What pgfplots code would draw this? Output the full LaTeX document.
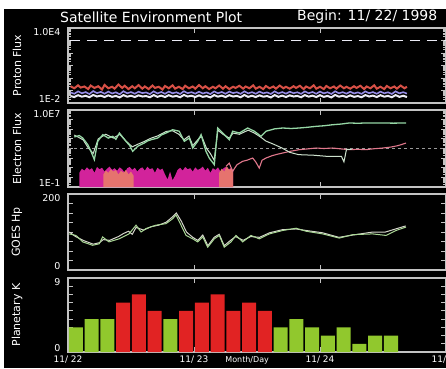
\documentclass[border=0pt]{standalone}
\usepackage{fontspec}
\setmainfont{DejaVu Sans}
\usepackage{pgfplots}
\pgfplotsset{compat=1.18}

\definecolor{framegray}{RGB}{195,195,195}
\definecolor{kgreen}{RGB}{145,200,45}
\definecolor{kred}{RGB}{225,35,35}
\definecolor{pred}{RGB}{215,80,70}
\definecolor{pblue}{RGB}{150,140,230}
\definecolor{pwhite}{RGB}{235,235,245}
\definecolor{egreen}{RGB}{150,215,165}
\definecolor{ewhite}{RGB}{205,225,205}
\definecolor{epink}{RGB}{225,120,140}
\definecolor{emag}{RGB}{210,35,155}
\definecolor{esalmon}{RGB}{230,115,110}
\definecolor{hgreen}{RGB}{170,215,150}
\definecolor{hgray}{RGB}{215,215,205}

\pgfplotsset{
  goes/.style={
    scale only axis, width=378pt, xmin=0, xmax=3,
    axis line style={draw=framegray, line width=1.2pt},
    tick style={draw=framegray, line width=0.8pt},
    tick align=inside, major tick length=5pt,
    xtick={0,1,2,3}, xticklabels={},
    minor tick num=0,
    ticklabel style={text=white, font=\fontsize{9.5}{10}\selectfont},
    yticklabel style={xshift=-4pt, yshift=4pt},
    extra y tick style={yticklabel style={yshift=-8pt}},
    every axis y label/.style={at={(axis description cs:-0.135,0.5)},
      anchor=center, rotate=90, text=white, font=\fontsize{11}{12}\selectfont},
    anchor=south west,
  },
}

\begin{document}
\begin{tikzpicture}
\fill[black] (4pt,0pt) rectangle (446pt,359pt);
\node[anchor=west, inner sep=0pt, text=white, font=\fontsize{14}{15}\selectfont] at (60pt,351pt) {Satellite Environment Plot};
\node[anchor=west, inner sep=0pt, text=white, font=\fontsize{14}{15}\selectfont] at (297pt,351pt) {Begin: 11/ 22/ 1998};

% Proton flux
\begin{axis}[goes, at={(68pt,265pt)}, height=75pt,
  ymode=log, ymin=1e-2, ymax=1e4,
  ytick={1e-2,1e-1,1,10,100,1000,1e4},
  yticklabels={1E-2,,,,,,},
  extra y ticks={1e4}, extra y tick labels={1.0E4},
  ylabel={Proton Flux}]
\addplot[pwhite, line width=0.8pt, dash pattern=on 10pt off 7pt] coordinates {(0.015,1.1e3) (3,1.1e3)};
\addplot[pred, line width=2pt] coordinates {
(0.02,0.22) (0.05,0.15) (0.08,0.26) (0.10,0.17) (0.13,0.21) (0.16,0.13) (0.18,0.25) (0.21,0.16)
(0.24,0.22) (0.27,0.12) (0.29,0.28) (0.32,0.15) (0.35,0.20) (0.37,0.14) (0.40,0.30) (0.43,0.16)
(0.45,0.24) (0.48,0.13) (0.51,0.22) (0.53,0.15) (0.56,0.27) (0.59,0.14) (0.61,0.21) (0.64,0.13)
(0.67,0.25) (0.69,0.16) (0.72,0.20) (0.75,0.12) (0.77,0.23) (0.80,0.15) (0.83,0.26) (0.85,0.14)
(0.88,0.20) (0.91,0.13) (0.93,0.24) (0.96,0.15) (0.99,0.21) (1.01,0.14) (1.04,0.27) (1.07,0.15)
(1.09,0.22) (1.12,0.13) (1.15,0.20) (1.17,0.15) (1.20,0.25) (1.23,0.14) (1.25,0.22) (1.28,0.13)
(1.31,0.20) (1.33,0.16) (1.36,0.24) (1.39,0.14) (1.41,0.21) (1.44,0.15) (1.47,0.26) (1.49,0.14)
(1.52,0.20) (1.55,0.13) (1.57,0.23) (1.60,0.15) (1.63,0.21) (1.65,0.14) (1.68,0.25) (1.71,0.15)
(1.73,0.20) (1.76,0.14) (1.79,0.22) (1.81,0.16) (1.84,0.24) (1.87,0.13) (1.89,0.21) (1.92,0.15)
(1.95,0.26) (1.97,0.14) (2.00,0.20) (2.03,0.13) (2.05,0.23) (2.08,0.15) (2.11,0.21) (2.13,0.14)
(2.16,0.25) (2.19,0.15) (2.21,0.20) (2.24,0.14) (2.27,0.22) (2.29,0.16) (2.32,0.24) (2.35,0.13)
(2.37,0.21) (2.40,0.15) (2.43,0.26) (2.45,0.14) (2.48,0.20) (2.51,0.13) (2.53,0.23) (2.56,0.15)
(2.59,0.21) (2.61,0.14) (2.64,0.25) (2.67,0.15) (2.69,0.20)};
\addplot[pblue, line width=1.6pt] coordinates {
(0.02,0.070) (0.05,0.055) (0.08,0.085) (0.11,0.060) (0.14,0.075) (0.17,0.052) (0.20,0.090) (0.23,0.062)
(0.26,0.078) (0.29,0.055) (0.32,0.082) (0.35,0.058) (0.38,0.072) (0.41,0.050) (0.44,0.088) (0.47,0.060)
(0.50,0.075) (0.53,0.055) (0.56,0.080) (0.59,0.062) (0.62,0.070) (0.65,0.052) (0.68,0.086) (0.71,0.058)
(0.74,0.076) (0.77,0.055) (0.80,0.082) (0.83,0.060) (0.86,0.072) (0.89,0.053) (0.92,0.088) (0.95,0.061)
(0.98,0.074) (1.01,0.056) (1.04,0.080) (1.07,0.058) (1.10,0.071) (1.13,0.052) (1.16,0.085) (1.19,0.060)
(1.22,0.076) (1.25,0.055) (1.28,0.082) (1.31,0.062) (1.34,0.073) (1.37,0.054) (1.40,0.087) (1.43,0.059)
(1.46,0.074) (1.49,0.055) (1.52,0.081) (1.55,0.060) (1.58,0.071) (1.61,0.053) (1.64,0.086) (1.67,0.058)
(1.70,0.075) (1.73,0.056) (1.76,0.080) (1.79,0.061) (1.82,0.072) (1.85,0.054) (1.88,0.085) (1.91,0.060)
(1.94,0.076) (1.97,0.055) (2.00,0.082) (2.03,0.059) (2.06,0.073) (2.09,0.053) (2.12,0.087) (2.15,0.060)
(2.18,0.074) (2.21,0.056) (2.24,0.080) (2.27,0.058) (2.30,0.071) (2.33,0.054) (2.36,0.085) (2.39,0.061)
(2.42,0.075) (2.45,0.055) (2.48,0.081) (2.51,0.060) (2.54,0.072) (2.57,0.053) (2.60,0.086) (2.63,0.059)
(2.66,0.074) (2.69,0.057)};
\addplot[pwhite, line width=2pt] coordinates {
(0.02,0.036) (0.05,0.030) (0.08,0.042) (0.11,0.032) (0.14,0.038) (0.17,0.029) (0.20,0.044) (0.23,0.033)
(0.26,0.039) (0.29,0.030) (0.32,0.041) (0.35,0.031) (0.38,0.037) (0.41,0.028) (0.44,0.043) (0.47,0.032)
(0.50,0.038) (0.53,0.030) (0.56,0.041) (0.59,0.033) (0.62,0.036) (0.65,0.029) (0.68,0.043) (0.71,0.031)
(0.74,0.039) (0.77,0.030) (0.80,0.042) (0.83,0.032) (0.86,0.037) (0.89,0.029) (0.92,0.044) (0.95,0.033)
(0.98,0.038) (1.01,0.030) (1.04,0.041) (1.07,0.031) (1.10,0.036) (1.13,0.028) (1.16,0.043) (1.19,0.032)
(1.22,0.039) (1.25,0.030) (1.28,0.042) (1.31,0.033) (1.34,0.037) (1.37,0.029) (1.40,0.044) (1.43,0.031)
(1.46,0.038) (1.49,0.030) (1.52,0.041) (1.55,0.032) (1.58,0.036) (1.61,0.028) (1.64,0.043) (1.67,0.031)
(1.70,0.039) (1.73,0.030) (1.76,0.041) (1.79,0.033) (1.82,0.037) (1.85,0.029) (1.88,0.043) (1.91,0.032)
(1.94,0.039) (1.97,0.030) (2.00,0.042) (2.03,0.031) (2.06,0.037) (2.09,0.028) (2.12,0.044) (2.15,0.032)
(2.18,0.038) (2.21,0.030) (2.24,0.041) (2.27,0.031) (2.30,0.036) (2.33,0.029) (2.36,0.043) (2.39,0.033)
(2.42,0.039) (2.45,0.030) (2.48,0.042) (2.51,0.032) (2.54,0.037) (2.57,0.029) (2.60,0.043) (2.63,0.031)
(2.66,0.038) (2.69,0.030)};
\end{axis}

% Electron flux
\begin{axis}[goes, at={(68pt,181pt)}, height=77pt,
  ymode=log, ymin=1e-1, ymax=1e7,
  ytick={1e-1,1,10,100,1000,1e4,1e5,1e6,1e7},
  yticklabels={1E-1,,,,,,,,},
  extra y ticks={1e7}, extra y tick labels={1.0E7},
  ylabel={Electron Flux}]
\addplot[gray!80, line width=1pt, dash pattern=on 3pt off 3pt] coordinates {(0,1e3) (3,1e3)};
\addplot[fill=emag, draw=none] coordinates {
(0.09,0.1) (0.09,3) (0.11,8) (0.13,5) (0.15,11) (0.17,6) (0.19,9) (0.21,3) (0.23,12) (0.25,7)
(0.27,10) (0.29,4) (0.31,8) (0.33,13) (0.35,6) (0.37,9) (0.39,5) (0.41,11) (0.43,7) (0.45,3)
(0.47,9) (0.49,12) (0.51,6) (0.53,10) (0.55,4) (0.57,8) (0.59,11) (0.61,5) (0.63,13) (0.65,7)
(0.67,9) (0.69,3) (0.71,10) (0.73,6) (0.75,8) (0.77,2) (0.79,0.6) (0.81,4) (0.83,0.5) (0.85,1.5)
(0.87,6) (0.89,10) (0.91,5) (0.93,12) (0.95,7) (0.97,9) (0.99,4) (1.01,11) (1.03,6) (1.05,8)
(1.07,13) (1.09,5) (1.11,10) (1.13,3) (1.15,9) (1.17,6) (1.19,11) (1.21,4) (1.23,8) (1.25,12)
(1.27,6) (1.29,9) (1.31,5) (1.31,0.1)} -- cycle;
\addplot[fill=esalmon, draw=none] coordinates {
(0.28,0.1) (0.28,2) (0.30,5) (0.32,3) (0.34,7) (0.36,4) (0.38,6) (0.40,2) (0.42,5) (0.44,3)
(0.46,6) (0.48,2) (0.50,4) (0.52,1.5) (0.52,0.1)} -- cycle;
\addplot[fill=esalmon, draw=none] coordinates {
(1.20,0.1) (1.20,3) (1.22,8) (1.24,4) (1.26,14) (1.28,6) (1.30,9) (1.31,4) (1.31,0.1)} -- cycle;
\addplot[epink, line width=1.1pt] coordinates {
(1.254,14) (1.28,30) (1.307,4.3) (1.34,20) (1.386,47) (1.42,60) (1.466,102) (1.49,40)
(1.518,9.3) (1.54,60) (1.571,102) (1.62,180) (1.66,250) (1.704,340) (1.76,500) (1.80,620)
(1.836,760) (1.90,900) (1.968,1120) (2.03,1000) (2.101,1120) (2.17,900) (2.232,760)
(2.30,820) (2.365,760) (2.43,950) (2.498,1120) (2.56,1400) (2.62,2000) (2.683,3700)};
\addplot[ewhite, line width=1pt] coordinates {
(0.05,2.5e4) (0.12,8e3) (0.16,1.2e3) (0.20,300) (0.24,1e4) (0.30,3e4) (0.36,1.2e4)
(0.41,3e4) (0.46,6e3) (0.51,1.5e3) (0.56,3e3) (0.60,5e3) (0.66,1.2e4) (0.71,2e4)
(0.78,6e4) (0.83,7e4) (0.88,3e4) (0.92,8e3) (0.96,2e4) (0.99,2e3) (1.03,8e3) (1.06,2e4)
(1.10,1e3) (1.13,300) (1.16,60) (1.19,8e4) (1.23,3e4) (1.28,1.2e4) (1.31,4e4) (1.36,3e4)
(1.43,8e4) (1.48,4e4) (1.53,1.5e4) (1.57,6e3) (1.64,2.5e3) (1.70,1.1e3) (1.76,400)
(1.83,230) (1.95,200) (2.05,155) (2.17,155) (2.19,40) (2.21,800) (2.25,800)};
\addplot[egreen, line width=1.3pt] coordinates {
(0.05,1.6e4) (0.09,2.2e4) (0.117,1.23e4) (0.157,2.5e3) (0.18,600) (0.209,70) (0.236,5.6e3) (0.276,2.75e4)
(0.32,1.2e4) (0.355,1.86e4) (0.38,9e3) (0.408,4.07e4) (0.460,5.6e3) (0.49,2e3) (0.513,513) (0.553,1.7e3)
(0.605,3.7e3) (0.63,6e3) (0.659,8.1e3) (0.712,1.23e4) (0.74,2.5e4) (0.778,4.07e4) (0.831,8.9e4) (0.883,6.2e4)
(0.923,5.6e3) (0.963,1.23e4) (0.990,1.12e3) (1.029,5.6e3) (1.056,2.75e4) (1.095,513)
(1.121,102) (1.161,21) (1.188,1.35e5) (1.228,4.07e4) (1.280,8.1e3) (1.307,6.2e4)
(1.360,4.07e4) (1.426,1.35e5) (1.479,6.2e4) (1.532,1.86e4) (1.571,6.2e4) (1.64,1.1e5)
(1.704,1.35e5) (1.77,1.2e5) (1.836,1.35e5) (1.90,1.6e5) (1.968,2e5) (2.03,2.3e5)
(2.101,2.95e5) (2.17,3.5e5) (2.232,4.5e5) (2.30,4.2e5) (2.365,4.5e5) (2.43,4.5e5)
(2.498,4.5e5) (2.58,4.3e5) (2.683,4.5e5)};
\end{axis}

% GOES Hp
\begin{axis}[goes, at={(68pt,98pt)}, height=76pt,
  ymin=0, ymax=200,
  ytick={0,25,...,200},
  yticklabels={0,,,,,,,,},
  extra y ticks={200}, extra y tick labels={200},
  ylabel={GOES Hp}]
\addplot[hgray, line width=1pt] coordinates {
(0.01,100) (0.06,88) (0.12,78) (0.20,68) (0.25,72) (0.28,80) (0.33,78) (0.40,88)
(0.44,96) (0.48,102) (0.51,94) (0.54,112) (0.60,105) (0.66,114) (0.72,118) (0.78,126) (0.83,140) (0.86,150)
(0.90,128) (0.94,100) (0.99,86) (1.03,78) (1.07,92) (1.11,64) (1.16,86) (1.20,94)
(1.24,64) (1.29,78) (1.33,88) (1.39,78) (1.45,88) (1.52,86) (1.60,98) (1.70,106)
(1.81,108) (1.89,104) (2.02,98) (2.15,86) (2.26,92) (2.42,100) (2.52,100) (2.60,108)
(2.68,116)};
\addplot[hgreen, line width=1pt] coordinates {
(0.010,95) (0.063,91) (0.117,74) (0.196,65) (0.248,69) (0.275,87) (0.325,74) (0.405,82)
(0.484,95) (0.540,118) (0.58,100) (0.619,109) (0.698,118) (0.778,122) (0.831,135) (0.857,145)
(0.897,118) (0.937,91) (0.990,82) (1.029,74) (1.069,87) (1.109,60) (1.161,82) (1.201,91)
(1.240,60) (1.294,74) (1.333,91) (1.387,74) (1.452,91) (1.518,82) (1.598,95) (1.704,104)
(1.810,110) (1.889,102) (2.021,95) (2.153,84) (2.260,93) (2.418,95) (2.524,91)
(2.603,104) (2.683,113)};
\end{axis}

% Planetary K
\begin{axis}[goes, at={(68pt,16pt)}, height=74pt,
  ymin=0, ymax=9,
  ytick={0,1,...,9},
  yticklabels={0,,,,,,,,,},
  extra y ticks={9}, extra y tick labels={9},
  xticklabels={11/ 22,11/ 23,11/ 24,11/ 25},
  xticklabel style={font=\fontsize{9}{10}\selectfont, yshift=0pt},
  xlabel={Month/Day},
  x label style={at={(axis description cs:0.474,0)}, anchor=center, yshift=-8pt,
    text=white, font=\fontsize{8}{9}\selectfont},
  ylabel={Planetary K}]
\addplot[ybar, bar width=0.113, bar shift=0pt, fill=kgreen, draw=none] coordinates {
(0.0625,3) (0.1875,4) (0.3125,4) (0.8125,4) (1.6875,3) (1.8125,4) (1.9375,3)
(2.0625,2) (2.1875,3) (2.3125,1) (2.4375,2) (2.5625,2)};
\addplot[ybar, bar width=0.113, bar shift=0pt, fill=kred, draw=none] coordinates {
(0.4375,6) (0.5625,7) (0.6875,5) (0.9375,5) (1.0625,6) (1.1875,7) (1.3125,5)
(1.4375,6) (1.5625,5)};
\end{axis}

\pgfresetboundingbox
\path[use as bounding box] (0pt,0pt) rectangle (446pt,368pt);
\end{tikzpicture}
\end{document}
